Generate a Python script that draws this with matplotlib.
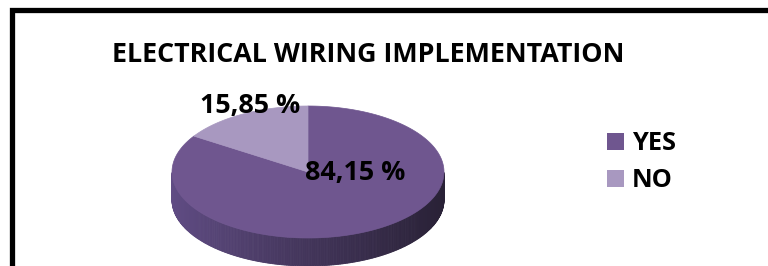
import matplotlib.pyplot as plt
import numpy as np
from matplotlib.patches import Polygon, Rectangle

categories = ['YES', 'NO']
shares = [84.15, 15.85]
colors = ['#6f568f', '#a898c0']
title = 'ELECTRICAL WIRING IMPLEMENTATION'

plt.rcParams['font.family'] = ['Open Sans', 'DejaVu Sans']

W, H = 768, 266
fig = plt.figure(figsize=(W / 100, H / 100), dpi=100)
fig.patch.set_facecolor('white')
ax = fig.add_axes([0, 0, 1, 1])
ax.set_xlim(0, W)
ax.set_ylim(H, 0)
ax.axis('off')

# pie geometry (pixels)
cx, cy = 308, 172
a, b = 136, 66
depth = 28


def proj(theta):
    return cx + a * np.cos(theta), cy - b * np.sin(theta)


side_left = np.array([0x60, 0x4c, 0x84]) / 255
side_right = np.array([0x29, 0x21, 0x36]) / 255

# angles: start at 12 o'clock, clockwise
fracs = np.array(shares) / sum(shares)
starts = np.pi / 2 - 2 * np.pi * np.concatenate([[0], np.cumsum(fracs)[:-1]])
ends = starts - 2 * np.pi * fracs

# side walls (front half only)
for s, e in zip(starts, ends):
    th = np.linspace(s, e, 400)
    th = th[np.sin(th) < 0]
    for t0, t1 in zip(th[:-1], th[1:]):
        x0, y0 = proj(t0)
        x1, y1 = proj(t1)
        frac = ((x0 + x1) / 2 - (cx - a)) / (2 * a)
        frac = np.clip(frac, 0, 1) ** 0.9
        col = side_left * (1 - frac) + side_right * frac
        ax.add_patch(Polygon([(x0, y0), (x1, y1), (x1, y1 + depth), (x0, y0 + depth)],
                             closed=True, facecolor=col, edgecolor=col, lw=0.6))

# top face
for s, e, c in zip(starts, ends, colors):
    th = np.linspace(s, e, 300)
    xs, ys = proj(th)
    pts = np.column_stack([np.r_[cx, xs], np.r_[cy, ys]])
    ax.add_patch(Polygon(pts, closed=True, facecolor=c, edgecolor=c, lw=0.5))

# title, sized so it spans the same width as in the original
t = ax.text(368, 62, title, ha='center', va='baseline', fontsize=18,
            fontweight='bold', color='black')
fig.canvas.draw()
w = t.get_window_extent().width
scale = 515 / w
t.set_fontsize(18 * scale)

# data labels
lab_pos = [(355, 180), (250, 113)]
for v, (x, y) in zip(shares, lab_pos):
    ax.text(x, y, f'{v:.2f} %'.replace('.', ','), ha='center', va='baseline',
            fontsize=18 * scale, fontweight='bold', color='black')

# legend
leg_y = [150, 187]
for cat, c, y in zip(categories, colors, leg_y):
    ax.add_patch(Rectangle((607, y - 17), 17, 17, facecolor=c, edgecolor='none'))
    ax.text(632, y, cat, ha='left', va='baseline', fontsize=17 * scale,
            fontweight='bold', color='black')

# chart frame (right and bottom outside the picture)
ax.plot([11.5, 11.5, 775], [275, 9.5, 9.5], color='black', lw=3.8,
        solid_joinstyle='miter', clip_on=False)

fig.savefig('out.png', dpi=100, facecolor='white')
